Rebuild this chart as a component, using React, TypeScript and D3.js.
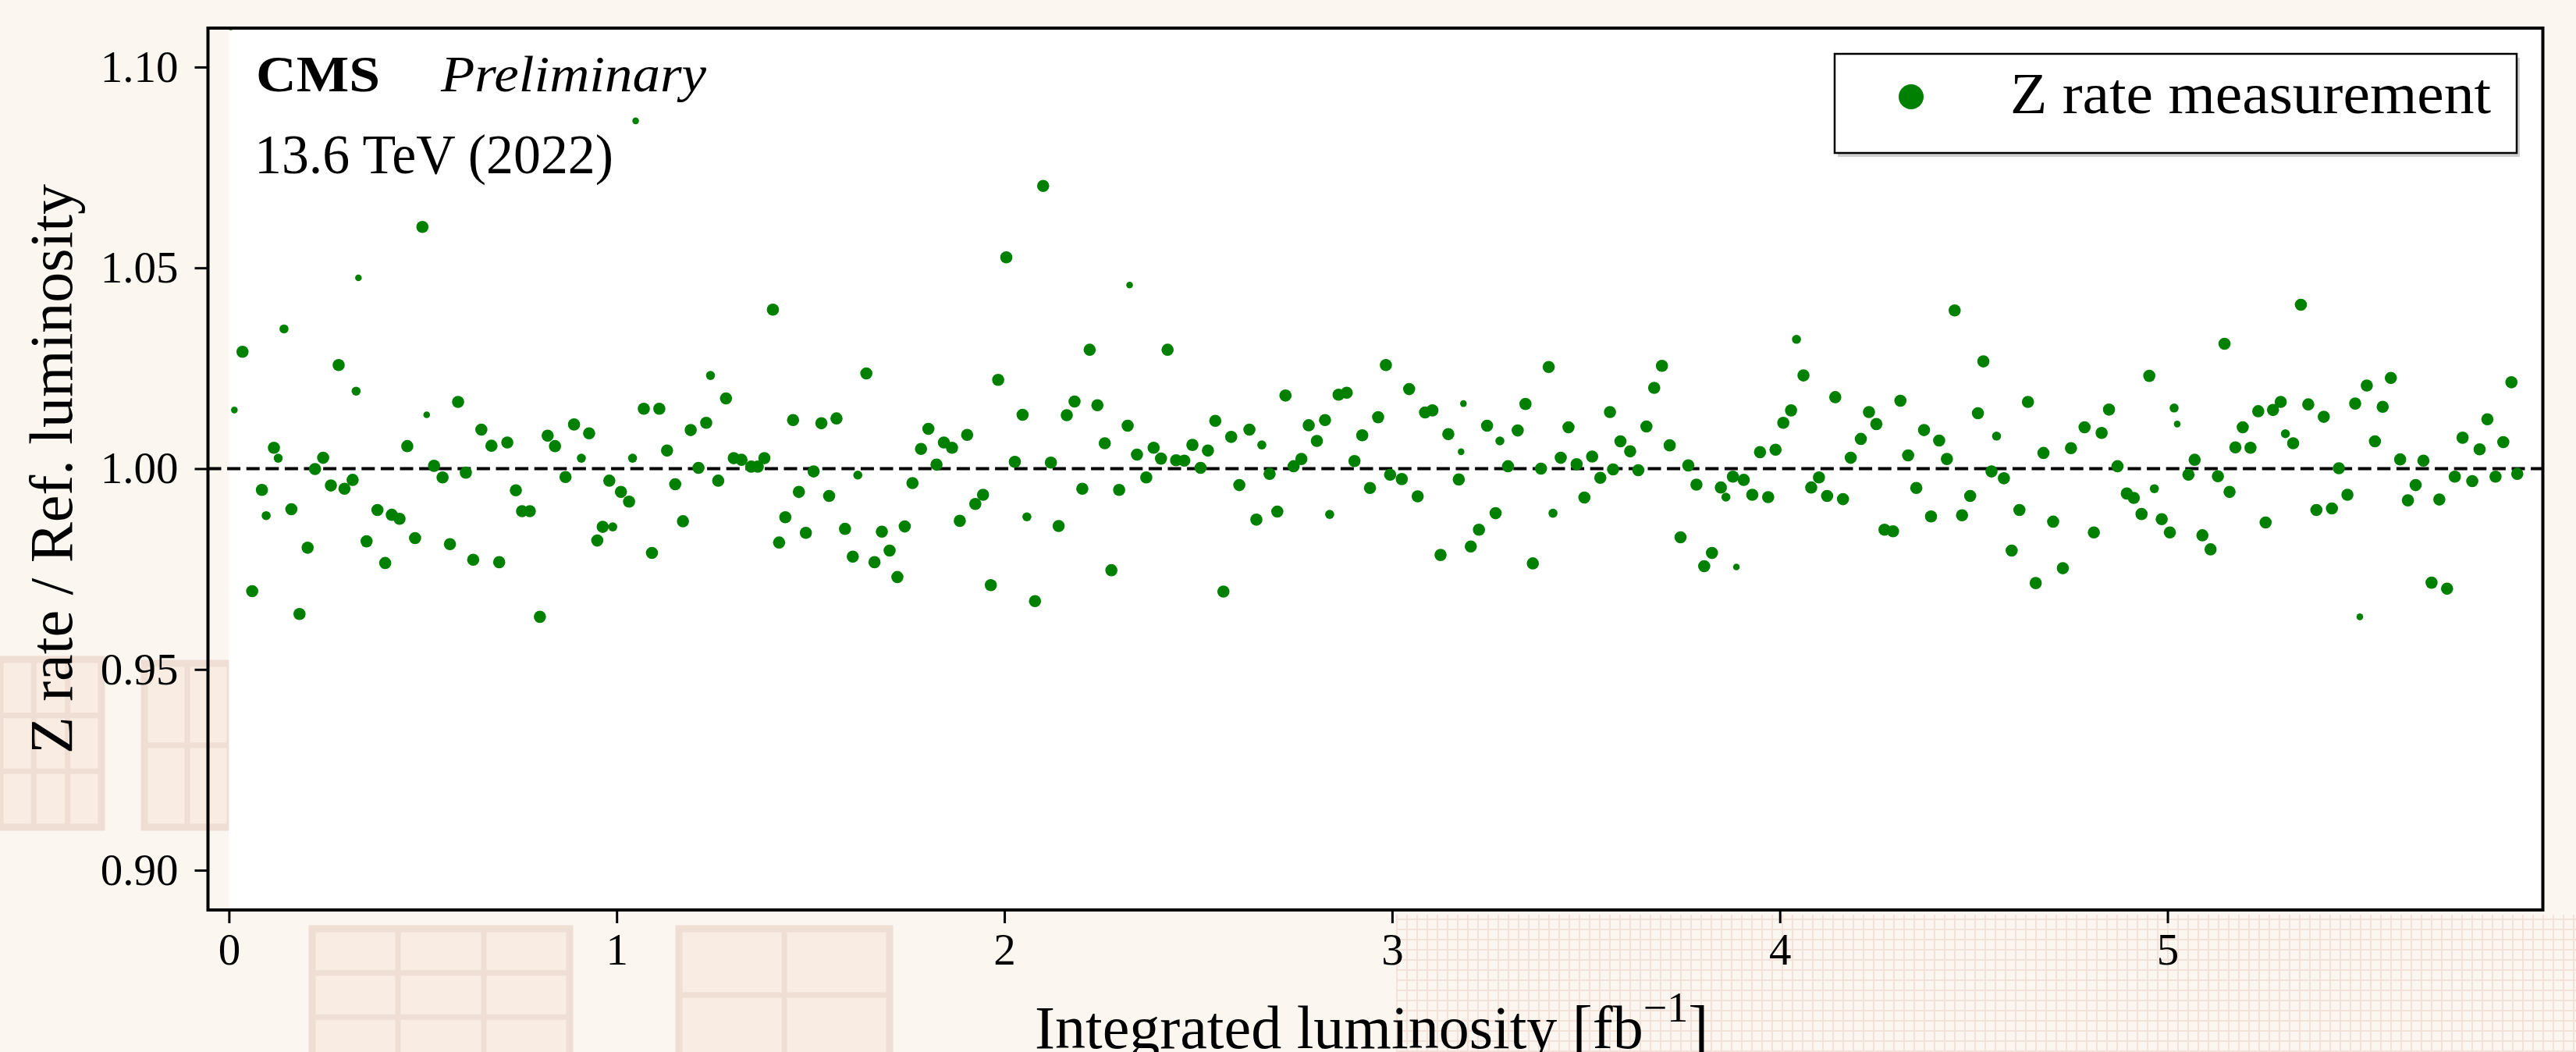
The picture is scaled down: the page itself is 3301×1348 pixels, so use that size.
import React, { useRef, useEffect } from 'react';
import * as d3 from 'd3';

// [integrated luminosity (fb^-1), Z rate / ref. luminosity, relative weight]
type Pt = [number, number, number];

const zRateA: Pt[] = [
  [0.005, 1.1100, 0.3], [0.014, 1.0146, 0.3], [0.035, 1.0291, 1], [0.060, 0.9695, 1],
  [0.085, 0.9947, 1], [0.096, 0.9883, 0.55], [0.116, 1.0052, 1], [0.127, 1.0026, 0.55],
  [0.142, 1.0348, 0.55], [0.161, 0.9899, 1], [0.182, 0.9638, 1], [0.203, 0.9803, 1],
  [0.222, 0.9999, 1], [0.243, 1.0027, 1], [0.263, 0.9958, 1], [0.283, 1.0258, 1],
  [0.298, 0.9950, 1], [0.319, 0.9972, 1], [0.328, 1.0193, 0.55], [0.334, 1.0475, 0.3],
  [0.355, 0.9819, 1], [0.383, 0.9897, 1], [0.403, 0.9765, 1], [0.420, 0.9885, 1],
  [0.440, 0.9875, 1], [0.460, 1.0056, 1], [0.480, 0.9827, 1], [0.499, 1.0602, 1],
  [0.510, 1.0134, 0.3], [0.529, 1.0007, 1], [0.551, 0.9978, 1], [0.570, 0.9812, 1],
  [0.591, 1.0166, 1], [0.611, 0.9990, 1], [0.630, 0.9773, 1], [0.651, 1.0097, 1],
  [0.677, 1.0057, 1], [0.697, 0.9767, 1], [0.718, 1.0065, 1], [0.740, 0.9946, 1],
  [0.756, 0.9894, 1], [0.776, 0.9894, 1], [0.802, 0.9631, 1], [0.822, 1.0082, 1],
  [0.841, 1.0056, 1], [0.868, 0.9979, 1], [0.890, 1.0110, 1], [0.909, 1.0026, 0.55],
  [0.929, 1.0088, 1], [0.950, 0.9821, 1], [0.964, 0.9855, 1], [0.981, 0.9970, 1],
  [0.990, 0.9855, 0.55], [1.011, 0.9942, 1], [1.032, 0.9918, 1], [1.041, 1.0026, 0.55],
  [1.049, 1.0866, 0.3], [1.070, 1.0149, 1], [1.091, 0.9790, 1], [1.110, 1.0149, 1],
  [1.130, 1.0045, 1],
];

const zRateB: Pt[] = [
  [1.151, 0.9961, 1], [1.171, 0.9869, 1], [1.191, 1.0096, 1], [1.211, 1.0002, 1],
  [1.231, 1.0114, 1], [1.242, 1.0232, 0.55], [1.262, 0.9970, 1], [1.282, 1.0175, 1],
  [1.302, 1.0026, 1], [1.322, 1.0022, 1], [1.347, 1.0005, 1], [1.364, 1.0005, 1],
  [1.381, 1.0026, 1], [1.403, 1.0396, 1], [1.419, 0.9816, 1], [1.435, 0.9879, 1],
  [1.455, 1.0121, 1], [1.470, 0.9942, 1], [1.488, 0.9840, 1], [1.508, 0.9993, 1],
  [1.528, 1.0113, 1], [1.548, 0.9932, 1], [1.567, 1.0125, 1], [1.589, 0.9850, 1],
  [1.609, 0.9781, 1], [1.622, 0.9984, 0.55], [1.644, 1.0237, 1], [1.665, 0.9767, 1],
  [1.684, 0.9843, 1], [1.704, 0.9796, 1], [1.724, 0.9730, 1], [1.743, 0.9856, 1],
  [1.763, 0.9964, 1], [1.785, 1.0049, 1], [1.804, 1.0099, 1], [1.825, 1.0010, 1],
  [1.844, 1.0065, 1], [1.865, 1.0052, 1], [1.885, 0.9870, 1], [1.904, 1.0084, 1],
  [1.925, 0.9912, 1], [1.945, 0.9935, 1], [1.965, 0.9710, 1], [1.984, 1.0221, 1],
  [2.005, 1.0526, 1], [2.027, 1.0017, 1], [2.047, 1.0134, 1], [2.058, 0.9880, 0.55],
  [2.079, 0.9670, 1], [2.100, 1.0704, 1], [2.120, 1.0015, 1], [2.140, 0.9857, 1],
  [2.161, 1.0133, 1], [2.181, 1.0167, 1], [2.201, 0.9950, 1], [2.220, 1.0296, 1],
  [2.240, 1.0158, 1], [2.259, 1.0063, 1], [2.276, 0.9747, 1], [2.296, 0.9947, 1],
  [2.318, 1.0107, 1], [2.323, 1.0457, 0.3], [2.342, 1.0035, 1],
];

const zRateC: Pt[] = [
  [2.366, 0.9978, 1], [2.385, 1.0052, 1], [2.404, 1.0025, 1], [2.421, 1.0296, 1],
  [2.443, 1.0021, 1], [2.464, 1.0020, 1], [2.485, 1.0059, 1], [2.506, 1.0002, 1],
  [2.525, 1.0045, 1], [2.544, 1.0119, 1], [2.565, 0.9694, 1], [2.585, 1.0079, 1],
  [2.606, 0.9959, 1], [2.632, 1.0097, 1], [2.650, 0.9873, 1], [2.664, 1.0059, 0.55],
  [2.684, 0.9987, 1], [2.704, 0.9893, 1], [2.725, 1.0182, 1], [2.746, 1.0006, 1],
  [2.766, 1.0024, 1], [2.785, 1.0108, 1], [2.806, 1.0069, 1], [2.827, 1.0121, 1],
  [2.839, 0.9886, 0.55], [2.862, 1.0184, 1], [2.883, 1.0189, 1], [2.903, 1.0019, 1],
  [2.923, 1.0083, 1], [2.943, 0.9952, 1], [2.964, 1.0128, 1], [2.984, 1.0258, 1],
  [2.995, 0.9985, 1], [3.025, 0.9974, 1], [3.044, 1.0198, 1], [3.066, 0.9931, 1],
  [3.085, 1.0140, 1], [3.104, 1.0145, 1], [3.125, 0.9785, 1], [3.145, 1.0086, 1],
  [3.172, 0.9973, 1], [3.178, 1.0042, 0.3], [3.184, 1.0162, 0.3], [3.203, 0.9806, 1],
  [3.224, 0.9848, 1], [3.245, 1.0107, 1], [3.267, 0.9889, 1], [3.278, 1.0069, 0.55],
  [3.299, 1.0006, 1], [3.324, 1.0095, 1], [3.344, 1.0161, 1], [3.363, 0.9764, 1],
  [3.384, 1.0000, 1], [3.404, 1.0253, 1], [3.415, 0.9889, 0.55], [3.435, 1.0027, 1],
  [3.455, 1.0103, 1], [3.476, 1.0011, 1], [3.496, 0.9928, 1], [3.516, 1.0030, 1],
  [3.537, 0.9977, 1],
];

const zRateD: Pt[] = [
  [3.562, 1.0141, 1], [3.570, 0.9998, 1], [3.589, 1.0068, 1], [3.614, 1.0043, 1],
  [3.635, 0.9996, 1], [3.656, 1.0105, 1], [3.676, 1.0201, 1], [3.696, 1.0256, 1],
  [3.716, 1.0058, 1], [3.744, 0.9829, 1], [3.764, 1.0008, 1], [3.785, 0.9960, 1],
  [3.805, 0.9757, 1], [3.825, 0.9790, 1], [3.848, 0.9953, 1], [3.861, 0.9929, 0.55],
  [3.879, 0.9980, 1], [3.888, 0.9755, 0.3], [3.907, 0.9972, 1], [3.929, 0.9935, 1],
  [3.949, 1.0041, 1], [3.970, 0.9929, 1], [3.989, 1.0047, 1], [4.009, 1.0114, 1],
  [4.029, 1.0145, 1], [4.043, 1.0322, 0.55], [4.061, 1.0232, 1], [4.081, 0.9953, 1],
  [4.101, 0.9978, 1], [4.122, 0.9932, 1], [4.143, 1.0178, 1], [4.163, 0.9924, 1],
  [4.183, 1.0027, 1], [4.209, 1.0074, 1], [4.230, 1.0141, 1], [4.249, 1.0111, 1],
  [4.270, 0.9848, 1], [4.292, 0.9844, 1], [4.311, 1.0169, 1], [4.331, 1.0033, 1],
  [4.352, 0.9952, 1], [4.372, 1.0096, 1], [4.390, 0.9881, 1], [4.411, 1.0070, 1],
  [4.431, 1.0024, 1], [4.451, 1.0394, 1], [4.470, 0.9884, 1], [4.491, 0.9932, 1],
  [4.511, 1.0138, 1], [4.525, 1.0267, 1], [4.546, 0.9993, 1], [4.559, 1.0081, 0.55],
  [4.578, 0.9976, 1], [4.598, 0.9796, 1], [4.618, 0.9897, 1], [4.640, 1.0166, 1],
  [4.660, 0.9715, 1], [4.680, 1.0039, 1], [4.705, 0.9868, 1], [4.730, 0.9752, 1],
  [4.751, 1.0051, 1],
];

const zRateE: Pt[] = [
  [4.786, 1.0103, 1], [4.810, 0.9841, 1], [4.830, 1.0089, 1], [4.849, 1.0147, 1],
  [4.871, 1.0006, 1], [4.895, 0.9938, 1], [4.913, 0.9927, 1], [4.933, 0.9887, 1],
  [4.953, 1.0231, 1], [4.966, 0.9950, 0.55], [4.985, 0.9874, 1], [5.006, 0.9841, 1],
  [5.017, 1.0151, 0.55], [5.025, 1.0111, 0.3], [5.054, 0.9985, 1], [5.070, 1.0022, 1],
  [5.090, 0.9834, 1], [5.111, 0.9799, 1], [5.130, 0.9981, 1], [5.147, 1.0311, 1],
  [5.160, 0.9942, 1], [5.175, 1.0053, 1], [5.194, 1.0103, 1], [5.214, 1.0052, 1],
  [5.234, 1.0143, 1], [5.253, 0.9866, 1], [5.272, 1.0146, 1], [5.292, 1.0166, 1],
  [5.304, 1.0087, 0.55], [5.324, 1.0063, 1], [5.344, 1.0408, 1], [5.363, 1.0160, 1],
  [5.384, 0.9897, 1], [5.403, 1.0129, 1], [5.424, 0.9901, 1], [5.442, 1.0001, 1],
  [5.464, 0.9935, 1], [5.484, 1.0162, 1], [5.496, 0.9631, 0.3], [5.514, 1.0207, 1],
  [5.535, 1.0068, 1], [5.555, 1.0154, 1], [5.576, 1.0226, 1], [5.600, 1.0023, 1],
  [5.620, 0.9921, 1], [5.640, 0.9959, 1], [5.660, 1.0020, 1], [5.681, 0.9716, 1],
  [5.701, 0.9923, 1], [5.721, 0.9701, 1], [5.741, 0.9980, 1], [5.761, 1.0077, 1],
  [5.786, 0.9969, 1], [5.805, 1.0048, 1], [5.825, 1.0123, 1], [5.846, 0.9980, 1],
  [5.866, 1.0066, 1], [5.887, 1.0215, 1], [5.902, 0.9987, 1],
];

const xTicks = [0, 1, 2, 3, 4, 5];
const yTicks = [0.90, 0.95, 1.00, 1.05, 1.10];
const refLine = 1.0;
const legendLabel = 'Z rate measurement';

const SERIF = '"Liberation Serif", "DejaVu Serif", serif';

const App = () => {
  const svgRef = useRef<SVGSVGElement>(null);

  useEffect(() => {
    const svg = d3.select(svgRef.current);
    svg.selectAll('*').remove();

    const width = 3301;
    const height = 1348;
    const left = 266.5, right = 3258.5, top = 36, bottom = 1166;

    const x = d3.scaleLinear().domain([-0.0541, 5.968]).range([left, right]);
    const y = d3.scaleLinear().domain([0.8901, 1.1097]).range([bottom, top]);
    const r = d3.scaleSqrt().domain([0, 1]).range([0, 7.8]);

    const data = [...zRateA, ...zRateB, ...zRateC, ...zRateD, ...zRateE];

    svg.attr('width', width).attr('height', height).attr('viewBox', [0, 0, width, height]);

    // parchment-like backdrop
    svg.append('rect').attr('width', width).attr('height', height).attr('fill', '#fbf6ef');
    const deco = svg.append('g').attr('fill', 'none').attr('stroke', '#ecd6cc').attr('opacity', 0.75);
    const box = (bx: number, by: number, bw: number, bh: number, n: number) => {
      deco.append('rect').attr('x', bx).attr('y', by).attr('width', bw).attr('height', bh)
        .attr('fill', '#f7e9e0').attr('stroke-width', 9);
      d3.range(1, n).forEach(i => {
        deco.append('line').attr('x1', bx + (bw * i) / n).attr('x2', bx + (bw * i) / n)
          .attr('y1', by).attr('y2', by + bh).attr('stroke-width', 7);
        deco.append('line').attr('y1', by + (bh * i) / n).attr('y2', by + (bh * i) / n)
          .attr('x1', bx).attr('x2', bx + bw).attr('stroke-width', 7);
      });
    };
    box(400, 1190, 330, 170, 3);
    box(870, 1190, 270, 170, 2);
    box(0, 845, 130, 215, 3);
    box(185, 850, 110, 210, 2);
    const fine = svg.append('g').attr('stroke', '#f3e2d9').attr('stroke-width', 2);
    d3.range(1790, width, 13).forEach(gx => {
      fine.append('line').attr('x1', gx).attr('x2', gx).attr('y1', 1172).attr('y2', height);
    });
    d3.range(1178, height, 13).forEach(gy => {
      fine.append('line').attr('x1', 1790).attr('x2', width).attr('y1', gy).attr('y2', gy);
    });

    // white image area inside the axes starts at x = 0
    svg.append('rect')
      .attr('x', x(0)).attr('y', top)
      .attr('width', right - x(0)).attr('height', bottom - top)
      .attr('fill', '#ffffff');

    svg.append('clipPath').attr('id', 'plot-clip')
      .append('rect').attr('x', left).attr('y', top)
      .attr('width', right - left).attr('height', bottom - top);

    // reference line
    svg.append('line')
      .attr('x1', left).attr('x2', right)
      .attr('y1', y(refLine)).attr('y2', y(refLine))
      .attr('stroke', '#000').attr('stroke-width', 4)
      .attr('stroke-dasharray', '17 7.6');

    // points
    svg.append('g').attr('clip-path', 'url(#plot-clip)')
      .selectAll('circle')
      .data(data)
      .join('circle')
      .attr('cx', d => x(d[0]))
      .attr('cy', d => y(d[1]))
      .attr('r', d => r(d[2]))
      .attr('fill', '#008000');

    // axes
    const yAxis = svg.append('g')
      .attr('transform', `translate(${left},0)`)
      .call(d3.axisLeft(y).tickValues(yTicks).tickSize(17).tickPadding(21).tickFormat(d3.format('.2f')));
    yAxis.select('.domain').remove();
    yAxis.attr('font-family', SERIF).attr('font-size', 57);
    yAxis.selectAll('line').attr('stroke', '#000').attr('stroke-width', 3);
    yAxis.selectAll('text').attr('fill', '#000');

    const xAxis = svg.append('g')
      .attr('transform', `translate(0,${bottom})`)
      .call(d3.axisBottom(x).tickValues(xTicks).tickSize(17).tickPadding(13).tickFormat(d3.format('d')));
    xAxis.select('.domain').remove();
    xAxis.attr('font-family', SERIF).attr('font-size', 57);
    xAxis.selectAll('line').attr('stroke', '#000').attr('stroke-width', 3);
    xAxis.selectAll('text').attr('fill', '#000');

    // frame
    svg.append('rect')
      .attr('x', left).attr('y', top)
      .attr('width', right - left).attr('height', bottom - top)
      .attr('fill', 'none').attr('stroke', '#000').attr('stroke-width', 4);

    // axis titles
    svg.append('text')
      .attr('transform', `translate(92,${(top + bottom) / 2}) rotate(-90)`)
      .attr('text-anchor', 'middle')
      .attr('font-family', SERIF).attr('font-size', 78)
      .attr('textLength', 730).attr('lengthAdjust', 'spacingAndGlyphs')
      .text('Z rate / Ref. luminosity');

    const xt = svg.append('text')
      .attr('x', 1326).attr('y', 1343)
      .attr('font-family', SERIF).attr('font-size', 78);
    xt.append('tspan').text('Integrated luminosity [fb');
    xt.append('tspan').attr('font-size', 54).attr('dy', -34).text('\u22121');
    xt.append('tspan').attr('dy', 34).text(']');

    // experiment labels
    svg.append('text')
      .attr('x', 328).attr('y', 117)
      .attr('font-family', SERIF).attr('font-size', 66).attr('font-weight', 'bold')
      .attr('textLength', 159).attr('lengthAdjust', 'spacingAndGlyphs')
      .text('CMS');
    svg.append('text')
      .attr('x', 565).attr('y', 117)
      .attr('font-family', SERIF).attr('font-size', 66).attr('font-style', 'italic')
      .attr('textLength', 340).attr('lengthAdjust', 'spacingAndGlyphs')
      .text('Preliminary');
    svg.append('text')
      .attr('x', 326).attr('y', 222)
      .attr('font-family', SERIF).attr('font-size', 71)
      .attr('textLength', 460).attr('lengthAdjust', 'spacingAndGlyphs')
      .text('13.6 TeV (2022)');

    // legend
    const lg = svg.append('g');
    lg.append('rect')
      .attr('x', 2355).attr('y', 74).attr('width', 874).attr('height', 127)
      .attr('fill', '#cfcfcf');
    lg.append('rect')
      .attr('x', 2351).attr('y', 69).attr('width', 874).attr('height', 127)
      .attr('fill', '#fff').attr('stroke', '#000').attr('stroke-width', 2.5);
    lg.append('circle').attr('cx', 2449).attr('cy', 124).attr('r', 16).attr('fill', '#008000');
    lg.append('text')
      .attr('x', 2576).attr('y', 145)
      .attr('font-family', SERIF).attr('font-size', 74)
      .attr('textLength', 616).attr('lengthAdjust', 'spacingAndGlyphs')
      .text(legendLabel);
  }, []);

  return <svg ref={svgRef} style={{ position: 'absolute', left: 0, top: 0 }}></svg>;
};

export default App;
